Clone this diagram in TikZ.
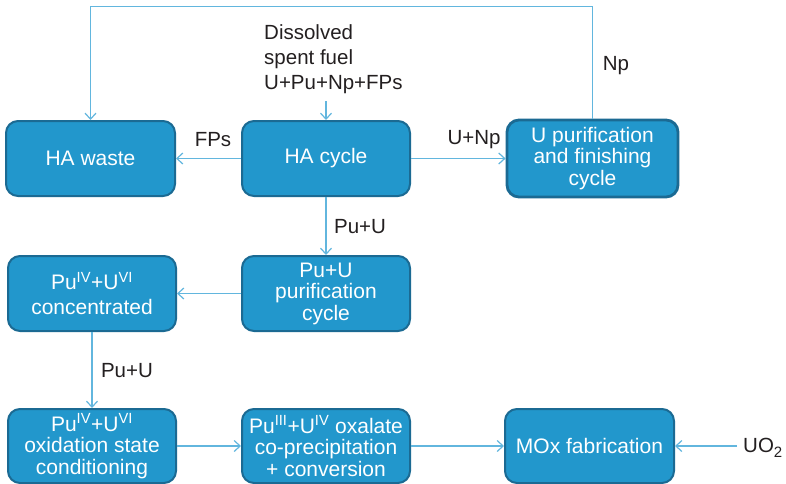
\documentclass[tikz,border=0pt]{standalone}
\usepackage{fontspec}
\setmainfont{Liberation Sans}
\usetikzlibrary{arrows.meta}
\definecolor{boxfill}{HTML}{2297CC}
\definecolor{boxedge}{HTML}{1B6A93}
\definecolor{flow}{HTML}{62B6DE}
\definecolor{ink}{HTML}{231F20}
\tikzset{
  stage/.style={draw=boxedge, line width=2pt, fill=boxfill, rounded corners=12pt,
    minimum height=75pt, text=white, align=center,
    font=\fontsize{21}{21.5}\selectfont, inner sep=0pt},
  flowlbl/.style={text=ink, font=\fontsize{20.5}{25}\selectfont, inner sep=0pt},
  arr/.style={draw=flow, line width=1.2pt, -{Straight Barb[length=6pt,width=11pt]}},
}
\begin{document}
\begin{tikzpicture}[x=1pt, y=-1pt]
\useasboundingbox (0,0) rectangle (786,483);

% process stages
\node[stage, minimum width=169pt] (hawaste) at (90.5,158.5) {HA waste};
\node[stage, minimum width=168pt] (hacycle) at (326,158.5) {HA cycle};
\node[stage, minimum width=171pt, minimum height=77pt, line width=2.8pt] (upur) at (592.5,158.5)
  {U purification\\and finishing\\cycle};
\node[stage, minimum width=168pt] (puconc) at (92,293.5)
  {Pu\textsuperscript{IV}+U\textsuperscript{VI}\\[3pt]concentrated};
\node[stage, minimum width=168pt] (pupur) at (326,293.5) {Pu+U\\purification\\cycle};
\node[stage, minimum width=168pt, minimum height=74pt] (ox) at (92,446)
  {Pu\textsuperscript{IV}+U\textsuperscript{VI}\\oxidation state\\conditioning};
\node[stage, minimum width=168pt, minimum height=74pt] (copr) at (326,446)
  {Pu\textsuperscript{III}+U\textsuperscript{IV} oxalate\\co-precipitation\\+ conversion};
\node[stage, minimum width=169pt, minimum height=74pt] (mox) at (589.5,446) {MOx fabrication};

% feeds
\node[flowlbl, align=left, anchor=west] (feed) at (264,59) {Dissolved\\spent fuel\\U+Pu+Np+FPs};
\coordinate (feedend) at (326,101);
\node[flowlbl, anchor=west] (uo2) at (743,448)
  {UO\raisebox{-5pt}{\fontsize{15}{15}\selectfont 2}};
\coordinate (uo2end) at (737,446);

% flow labels
\node[flowlbl] (lfps) at (213,140) {FPs};
\node[flowlbl] (lunp) at (474,140) {U+Np};
\node[flowlbl] (lnp) at (616,66) {Np};
\node[flowlbl] (lpu1) at (360,227) {Pu+U};
\node[flowlbl] (lpu2) at (127,371) {Pu+U};

% connectors
\draw[arr] (feedend) -- (hacycle.north);
\draw[arr] (hacycle.west) -- (hawaste.east);
\draw[arr] (hacycle.east) -- (upur.west);
\draw[arr] (upur.north) -- ++(0,-112) -| (hawaste.north);
\draw[arr] (hacycle.south) -- (pupur.north);
\draw[arr] (pupur.west) -- (puconc.east);
\draw[arr] (puconc.south) -- (ox.north);
\draw[arr] (ox.east) -- (copr.west);
\draw[arr] (copr.east) -- (mox.west);
\draw[arr] (uo2end) -- (mox.east);
\end{tikzpicture}
\end{document}
